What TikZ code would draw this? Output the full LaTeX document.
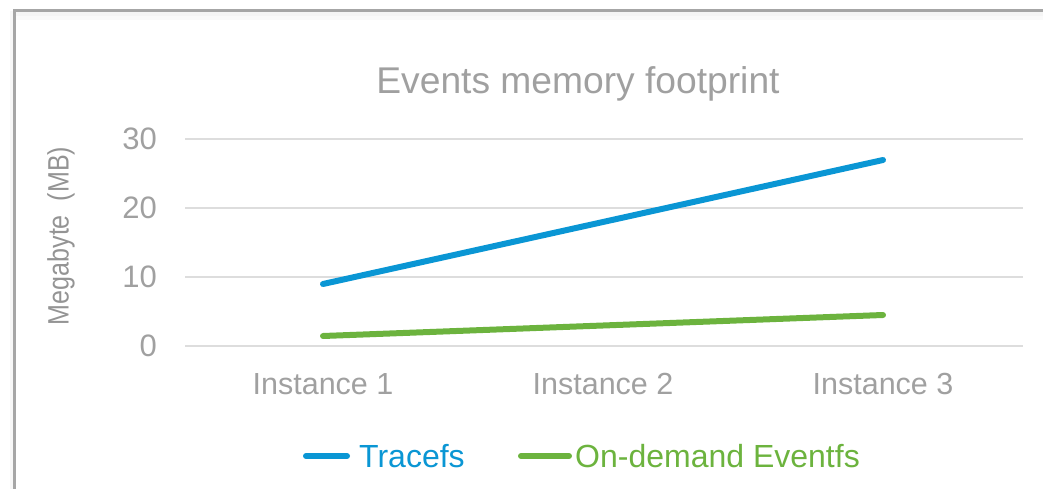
\documentclass[tikz,border=0pt]{standalone}
\usepackage{fontspec}
\setmainfont{Liberation Sans}
\definecolor{txtgray}{HTML}{A0A0A0}
\definecolor{gridgray}{HTML}{DDDDDD}
\definecolor{framegray}{HTML}{A6A6A6}
\definecolor{tblue}{HTML}{0A96D4}
\definecolor{tgreen}{HTML}{6CB33E}
\begin{document}
\begin{tikzpicture}[x=1pt,y=-1pt,
  tick/.style={anchor=east,inner sep=0pt,text=txtgray,font=\fontsize{31}{31}\selectfont},
  cat/.style={inner sep=0pt,text=txtgray,font=\fontsize{30.5}{30.5}\selectfont},
  grid/.style={gridgray,line width=1.6pt},
  series/.style={line width=6pt,line cap=round,line join=round},
  legtext/.style={anchor=west,inner sep=0pt,font=\fontsize{32}{32}\selectfont}]
\useasboundingbox (0,0) rectangle (1043,489);
% frame with soft shadow
\fill[black!4] (15,11) rectangle (1043,16);
\fill[black!2] (15,16) rectangle (1043,20);
\fill[black!3] (10,11) rectangle (14,489);
\draw[framegray,line width=2.2pt] (14.5,489) -- (14.5,10.5) -- (1043,10.5);
% title
\node[inner sep=0pt,text=txtgray,font=\fontsize{37.2}{37.2}\selectfont] (title) at (578,84) {Events memory footprint};
% grid
\foreach \v/\yy in {0/346,10/277,20/208,30/139}{
  \draw[grid] (185,\yy) -- (1023,\yy);
  \node[tick] (t\v) at (157,\yy) {\v};
}
% y label
\node[rotate=90,inner sep=0pt,text=black!42,xscale=0.85,font=\fontsize{29.5}{29.5}\selectfont] (ylab) at (61,236) {Megabyte\ \ (MB)};
% categories
\node[cat] (c1) at (323,384) {Instance 1};
\node[cat] (c2) at (603,384) {Instance 2};
\node[cat] (c3) at (883,384) {Instance 3};
% data
\coordinate (b1) at (323,284);
\coordinate (b2) at (603,222);
\coordinate (b3) at (883,160);
\coordinate (g1) at (323,336);
\coordinate (g2) at (603,325.5);
\coordinate (g3) at (883,315);
\draw[series,tblue] (b1) -- (b2) -- (b3);
\draw[series,tgreen] (g1) -- (g2) -- (g3);
% legend
\coordinate (lb1) at (306,456);
\coordinate (lb2) at (347,456);
\coordinate (lg1) at (521,456);
\coordinate (lg2) at (569,456);
\draw[series,tblue] (lb1) -- (lb2);
\node[legtext,text=tblue] (lt1) at (359,456) {Tracefs};
\draw[series,tgreen] (lg1) -- (lg2);
\node[legtext,text=tgreen] (lt2) at (575,456) {On-demand Eventfs};
\end{tikzpicture}
\end{document}
